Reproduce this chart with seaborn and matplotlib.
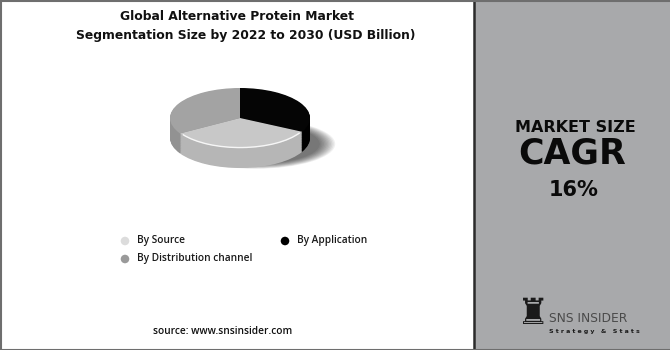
import matplotlib
matplotlib.use("Agg")
import matplotlib.pyplot as plt
import seaborn as sns
from matplotlib.patches import Ellipse, Rectangle, Arc
import numpy as np

sns.set_theme(style="white")
plt.rcParams['font.family'] = ['DejaVu Sans']

# ---- data ----
title_lines = ["Global Alternative Protein Market",
               "Segmentation Size by 2022 to 2030 (USD Billion)"]
segments = ["By Application", "By Source", "By Distribution channel"]
shares = [32.6, 33.8, 33.6]
legend_order = ["By Source", "By Distribution channel", "By Application"]
top_colors = {"By Application": "#050505", "By Source": "#c8c8c8",
              "By Distribution channel": "#a3a3a3"}
side_colors = {"By Application": "#000000", "By Source": "#b6b6b6",
               "By Distribution channel": "#929292"}
legend_colors = {"By Application": "#000000", "By Source": "#dcdcdc",
                 "By Distribution channel": "#9a9a9a"}
kpi_label = "MARKET SIZE"
kpi_title = "CAGR"
kpi_value = "16%"
source_text = "source: www.snsinsider.com"

W, H = 670, 350
fig = plt.figure(figsize=(W / 100, H / 100), dpi=100)
fig.patch.set_facecolor("white")

# overlay axes in pixel coordinates
ov = fig.add_axes([0, 0, 1, 1])
ov.set_xlim(0, W)
ov.set_ylim(H, 0)
ov.axis("off")

# right panel
ov.add_patch(Rectangle((474, 0), W - 474, H, facecolor="#a8a9ab", edgecolor="none", zorder=0))
ov.plot([474, 474], [0, H], color="#2b2b2b", lw=1.8, zorder=1)
# frame
ov.plot([0, W], [0.5, 0.5], color="#6e6e6e", lw=1.5, zorder=5)
ov.plot([0, W], [H - 0.5, H - 0.5], color="#6e6e6e", lw=1.5, zorder=5)
ov.plot([0.5, 0.5], [0, H], color="#6e6e6e", lw=1.5, zorder=5)

# title
ov.text(237, 17, title_lines[0], ha="center", va="center", fontsize=8.9,
        fontweight="bold", color="#111111")
ov.text(246, 36, title_lines[1], ha="center", va="center", fontsize=8.9,
        fontweight="bold", color="#111111")

# ---- 3D-ish pie ----
cx, cy, a, b, depth = 240, 118, 70, 30, 20
ax_w = 2.5 * a
ylo, yhi = -2.0, 1.3
ax = fig.add_axes([(cx - 1.25 * a) / W, (H - (cy - ylo * b)) / H,
                   ax_w / W, (yhi - ylo) * b / H])
ax.set_zorder(2)
ax.patch.set_alpha(0)

# soft shadow (below / right of the disc)
for i in range(12):
    s = 0.92 + i * 0.02
    ax.add_patch(Ellipse((0.22, -depth / b - 0.2), 2.0 * s, 1.45 * s,
                         facecolor="#000000", alpha=0.06, edgecolor="none",
                         zorder=0, clip_on=False))

nlay = 28
for k in range(nlay, 0, -1):
    off = -depth / b * k / nlay
    ax.pie(shares, startangle=90, counterclock=False, center=(0, off),
           colors=[side_colors[s] for s in segments],
           wedgeprops=dict(linewidth=0, edgecolor="none"))
ax.pie(shares, startangle=90, counterclock=False, center=(0, 0),
       colors=[top_colors[s] for s in segments],
       wedgeprops=dict(linewidth=0, edgecolor="none"))
# highlight along the front rim of the light slice
ax.add_patch(Arc((0, 0), 1.97, 1.97, theta1=214, theta2=330, color="white",
                 lw=1.0, alpha=0.85, zorder=10))
ax.set_aspect("auto")
ax.set_xlim(-1.25, 1.25)
ax.set_ylim(ylo, yhi)
ax.axis("off")

# ---- legend ----
pos = {"By Source": (125, 241), "By Distribution channel": (125, 259),
       "By Application": (285, 241)}
for name in legend_order:
    x, y = pos[name]
    ov.scatter([x], [y], s=38, color=legend_colors[name], edgecolors="none", zorder=3)
    ov.text(x + 12, y, name, ha="left", va="center", fontsize=7.3,
            fontweight="semibold", color="#1a1a1a", family="Open Sans")

ov.text(223, 332, source_text, ha="center", va="center", fontsize=7.3,
        fontweight="semibold", color="#111111", family="Open Sans")

# ---- KPI panel ----
ov.text(575, 128, kpi_label, ha="center", va="center", fontsize=11.5,
        fontweight="bold", color="#0a0a0a")
ov.text(572, 154, kpi_title, ha="center", va="center", fontsize=25,
        fontweight="bold", color="#0a0a0a")
ov.text(574, 190, kpi_value, ha="center", va="center", fontsize=15,
        fontweight="bold", color="#0a0a0a")

# logo
ov.text(533, 314, "\u265c", ha="center", va="center", fontsize=26,
        color="#1a1a1a", family="DejaVu Sans")
ov.text(549, 318, "SNS INSIDER", ha="left", va="center", fontsize=8.8,
        color="#4a4a4a", family="Liberation Sans Narrow")
ov.text(549, 331, "S t r a t e g y   &   S t a t s", ha="left", va="center",
        fontsize=4.5, fontweight="bold", color="#1a1a1a")

fig.savefig("out.png", dpi=100, facecolor="white")
